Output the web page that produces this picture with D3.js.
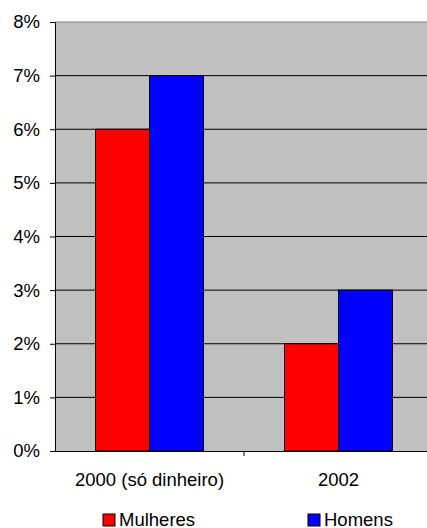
<!DOCTYPE html>
<html>
<head>
<meta charset="utf-8">
<script src="https://cdn.jsdelivr.net/npm/d3@7"></script>
<style>
  body { margin: 0; background: #fff; }
  text { font-family: "Liberation Sans", Arial, sans-serif; }
</style>
</head>
<body>
<script>
var categorias = ["2000 (só dinheiro)", "2002"];
var series = ["Mulheres", "Homens"];
var mulheres = [6, 2];
var homens = [7, 3];
var cores = ["#FF0000", "#0000FF"];
var yTicks = [0, 1, 2, 3, 4, 5, 6, 7, 8];

var svg = d3.select("body").append("svg")
    .attr("width", 427)
    .attr("height", 528);

var margin = {top: 22, left: 55},
    width = 378,
    height = 429;

var fonte = 18.5;

var g = svg.append("g")
    .attr("transform", "translate(" + margin.left + "," + margin.top + ")");

var x = d3.scaleBand().domain(categorias).range([0, width]);
var x1 = d3.scaleBand().domain(series).range([0, 108]);
var y = d3.scaleLinear().domain([0, 8]).range([height, 0]);

// fundo
g.append("rect")
    .attr("width", width)
    .attr("height", height)
    .attr("fill", "#C0C0C0");

// grelha
g.selectAll(".grid")
    .data(yTicks.slice(1, -1))
  .enter().append("line")
    .attr("x1", 0).attr("x2", width)
    .attr("y1", function(d) { return y(d); })
    .attr("y2", function(d) { return y(d); })
    .attr("stroke", "#000").attr("stroke-width", 1);

g.append("line")
    .attr("x1", 0).attr("x2", width)
    .attr("y1", y(8)).attr("y2", y(8))
    .attr("stroke", "#808080").attr("stroke-width", 1);

var dados = categorias.map(function(c, i) {
  return {cat: c, valores: [mulheres[i], homens[i]]};
});

var grupos = g.selectAll(".grupo")
    .data(dados)
  .enter().append("g")
    .attr("transform", function(d) {
      return "translate(" + (x(d.cat) + x.bandwidth() / 2 - 54) + ",0)";
    });

grupos.selectAll("rect")
    .data(function(d) { return d.valores; })
  .enter().append("rect")
    .attr("x", function(d, i) { return x1(series[i]); })
    .attr("width", x1.bandwidth())
    .attr("y", function(d) { return y(d); })
    .attr("height", function(d) { return height - y(d); })
    .attr("fill", function(d, i) { return cores[i]; })
    .attr("stroke", "#000").attr("stroke-width", 1);

// eixo y
var eixoY = g.append("g")
    .call(d3.axisLeft(y).tickValues(yTicks).tickSize(5).tickPadding(10)
      .tickFormat(function(d) { return d + "%"; }));
eixoY.select(".domain").attr("stroke", "#000");
eixoY.selectAll("text").attr("font-size", fonte).attr("fill", "#000")
    .attr("font-family", "Liberation Sans, Arial, sans-serif");

// eixo x
var eixoX = g.append("g")
    .attr("transform", "translate(0," + height + ")")
    .call(d3.axisBottom(x).tickSize(0).tickPadding(22));
eixoX.select(".domain").attr("stroke", "#000");
eixoX.selectAll("text").attr("font-size", fonte).attr("fill", "#000")
    .attr("font-family", "Liberation Sans, Arial, sans-serif");

g.append("line")
    .attr("x1", x(categorias[1])).attr("x2", x(categorias[1]))
    .attr("y1", height).attr("y2", height + 5)
    .attr("stroke", "#000");

// legenda
var legX = [103, 308];
var leg = svg.selectAll(".leg")
    .data(series)
  .enter().append("g")
    .attr("transform", function(d, i) { return "translate(" + legX[i] + ",514)"; });
leg.append("rect")
    .attr("width", 12).attr("height", 12)
    .attr("fill", function(d, i) { return cores[i]; })
    .attr("stroke", "#000");
leg.append("text")
    .attr("x", 16).attr("y", 12)
    .attr("font-size", fonte)
    .text(function(d) { return d; });
</script>
</body>
</html>
